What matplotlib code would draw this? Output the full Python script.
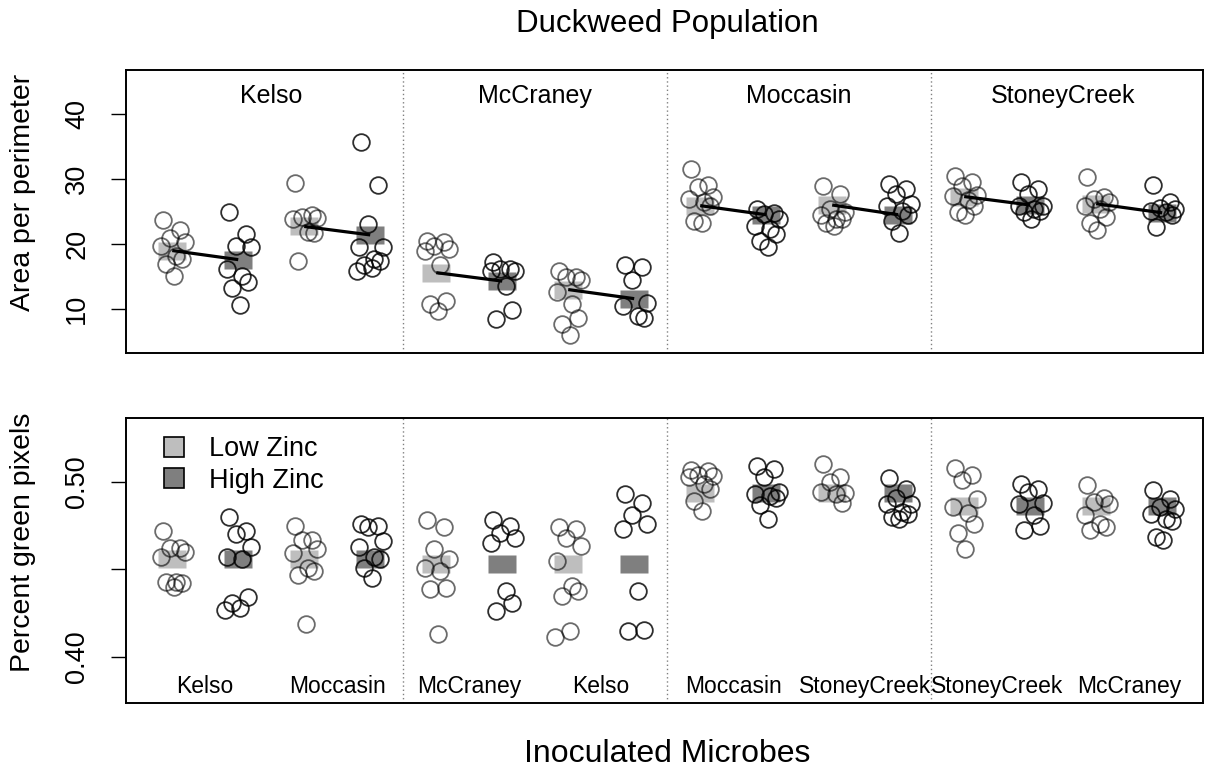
import matplotlib
matplotlib.use('Agg')
import matplotlib.pyplot as plt
from matplotlib.lines import Line2D
import numpy as np

plt.rcParams['font.family'] = ['Liberation Sans', 'DejaVu Sans']

# Datos: 4 poblaciones x 2 microbios x 2 niveles de zinc
poblaciones = ['Kelso', 'McCraney', 'Moccasin', 'StoneyCreek']
microbios = ['Kelso', 'Moccasin', 'McCraney', 'Kelso',
             'Moccasin', 'StoneyCreek', 'StoneyCreek', 'McCraney']
zinc = ['low', 'high'] * 8

# Area por perimetro (panel superior), un grupo por columna
area = [
    [23.7, 22.2, 21.0, 20.3, 19.7, 18.2, 17.7, 16.9, 15.1],
    [24.9, 21.5, 19.7, 19.5, 16.2, 15.1, 14.1, 13.3, 10.6],
    [29.4, 24.4, 24.2, 24.0, 23.8, 21.8, 21.7, 17.4],
    [35.7, 29.0, 23.1, 19.5, 19.5, 17.7, 17.4, 16.7, 16.3, 15.9],
    [20.5, 20.3, 19.7, 19.2, 19.0, 16.7, 11.3, 10.8, 9.7],
    [17.2, 16.2, 16.2, 15.9, 15.9, 13.5, 9.9, 8.4],
    [15.9, 14.9, 14.9, 14.4, 12.6, 10.8, 8.7, 7.7, 6.0],
    [16.7, 16.4, 14.4, 11.0, 10.4, 9.0, 8.7],
    [31.5, 29.0, 28.7, 27.2, 26.9, 26.4, 25.9, 23.6, 23.3],
    [25.4, 24.8, 24.6, 23.9, 22.8, 22.3, 21.5, 20.5, 19.5],
    [28.9, 27.7, 25.4, 24.9, 24.4, 23.8, 23.8, 23.3, 22.8],
    [29.2, 28.5, 27.7, 26.2, 25.9, 25.1, 24.4, 23.6, 21.7],
    [30.5, 29.5, 28.9, 27.5, 27.4, 26.7, 25.9, 24.9, 24.4],
    [29.5, 28.5, 27.7, 25.9, 25.9, 25.4, 25.1, 24.9, 23.8],
    [30.3, 27.2, 26.9, 26.4, 25.9, 25.4, 24.1, 23.3, 22.1],
    [29.0, 26.4, 25.6, 25.4, 25.1, 24.9, 24.4, 22.6],
]
area_medias = [19.0, 17.6, 22.7, 21.4, 15.6, 14.3, 13.0, 11.6,
               25.9, 24.5, 26.0, 24.5, 27.3, 26.0, 26.2, 24.8]

# Porcentaje de pixeles verdes (panel inferior)
verde = [
    [0.472, 0.462, 0.462, 0.460, 0.457, 0.443, 0.442, 0.443, 0.440],
    [0.480, 0.472, 0.470, 0.4625, 0.457, 0.456, 0.434, 0.431, 0.428, 0.427],
    [0.475, 0.467, 0.467, 0.4615, 0.4595, 0.451, 0.449, 0.447, 0.419],
    [0.476, 0.4745, 0.474, 0.466, 0.463, 0.457, 0.456, 0.451, 0.445],
    [0.478, 0.474, 0.4615, 0.456, 0.451, 0.449, 0.4395, 0.4385, 0.413],
    [0.478, 0.475, 0.471, 0.468, 0.465, 0.4375, 0.431, 0.426],
    [0.474, 0.473, 0.468, 0.4635, 0.455, 0.4405, 0.4375, 0.4345, 0.4145, 0.4115],
    [0.493, 0.488, 0.481, 0.476, 0.473, 0.4375, 0.4155, 0.4145],
    [0.507, 0.5065, 0.504, 0.5035, 0.503, 0.499, 0.496, 0.489, 0.4835],
    [0.509, 0.5075, 0.503, 0.4945, 0.493, 0.492, 0.491, 0.4865, 0.479],
    [0.510, 0.503, 0.500, 0.4935, 0.494, 0.493, 0.488],
    [0.502, 0.496, 0.491, 0.4875, 0.4875, 0.4825, 0.4815, 0.480, 0.479],
    [0.508, 0.504, 0.501, 0.490, 0.4855, 0.482, 0.476, 0.4705, 0.4615],
    [0.499, 0.496, 0.494, 0.488, 0.4875, 0.481, 0.4745, 0.4725],
    [0.498, 0.491, 0.4885, 0.4875, 0.481, 0.476, 0.474, 0.4725],
    [0.4955, 0.490, 0.4855, 0.4845, 0.4815, 0.479, 0.4775, 0.4685, 0.4665],
]
verde_medias = [0.456, 0.456, 0.456, 0.456, 0.4533, 0.4533, 0.4533, 0.4533,
                0.4935, 0.4935, 0.4935, 0.4935, 0.486, 0.486, 0.486, 0.486]

# Estilo
color_media = {'low': '#bebebe', 'high': '#7f7f7f'}
color_punto = {'low': (0, 0, 0, 0.58), 'high': (0, 0, 0, 0.82)}
jitter = [-0.14, 0.12, -0.04, 0.19, -0.17, 0.06, 0.15, -0.09, 0.02, -0.2]
rect = [(-1.5, -1), (1.5, -1), (1.5, 1), (-1.5, 1), (-1.5, -1)]
posiciones = np.arange(1, 17)

fig = plt.figure(figsize=(12.05, 7.67), dpi=100, facecolor='white')
ax1 = fig.add_axes([0.1046, 0.5398, 0.8938, 0.3689])
ax2 = fig.add_axes([0.1046, 0.0834, 0.8938, 0.3716])


def dibujar_panel(ax, datos, medias):
    for i, (vals, m) in enumerate(zip(datos, medias)):
        z = zinc[i]
        ax.plot([posiciones[i]], [m], linestyle='none', marker=rect, ms=19.5,
                mfc=color_media[z], mec='none', zorder=1)
        xs = posiciones[i] + np.array(jitter[:len(vals)])
        ax.plot(xs, vals, linestyle='none', marker='o', ms=12, mfc='none',
                mec=color_punto[z], mew=1.3, zorder=2)
    for xv in [4.5, 8.5, 12.5]:
        ax.axvline(xv, color='#808080', linestyle=(0, (1, 2)), linewidth=1, zorder=0)
    ax.set_xlim(0.30, 16.62)
    ax.set_xticks([])
    for s in ax.spines.values():
        s.set_linewidth(1.4)
    ax.tick_params(axis='y', length=10.8, width=1, labelsize=19.5, pad=15)


dibujar_panel(ax1, area, area_medias)
dibujar_panel(ax2, verde, verde_medias)

# Lineas entre medias (zinc bajo -> alto) en el panel superior
for i in range(0, 16, 2):
    ax1.plot(posiciones[i:i + 2], area_medias[i:i + 2], color='black', linewidth=2.3,
             solid_capstyle='butt', zorder=4)

ax1.set_ylim(3.25, 46.75)
ax1.set_yticks([10, 20, 30, 40])
ax1.set_yticklabels(['10', '20', '30', '40'], rotation=90, va='center')

ax2.set_ylim(0.3736, 0.5365)
ax2.set_yticks([0.40, 0.45, 0.50])
ax2.set_yticklabels(['0.40', '', '0.50'], rotation=90, va='center')

# Etiquetas de poblacion y microbios
for k, nombre in enumerate(poblaciones):
    ax1.text(2.5 + 4 * k, 0.883, nombre, transform=ax1.get_xaxis_transform(),
             ha='center', va='baseline', fontsize=18)
for k, nombre in enumerate(microbios):
    ax2.text(1.5 + 2 * k, 0.035, nombre, transform=ax2.get_xaxis_transform(),
             ha='center', va='baseline', fontsize=16.5)

# Leyenda
handles = [Line2D([], [], linestyle='none', marker='s', ms=14, mfc=color_media[z],
                  mec='black', mew=1.2) for z in ['low', 'high']]
ax2.legend(handles, ['Low Zinc', 'High Zinc'], loc='upper left', bbox_to_anchor=(0.012, 1.012),
           frameon=False, fontsize=19.5, handlelength=1.0, handletextpad=0.8,
           labelspacing=0.2, borderpad=0.3)

fig.text(0.5535, 0.958, 'Duckweed Population', ha='center', va='baseline', fontsize=22.5)
fig.text(0.5535, 0.0065, 'Inoculated Microbes', ha='center', va='baseline', fontsize=23)
fig.text(0.019, 0.7497, 'Area per perimeter', rotation=90, ha='center', va='center', fontsize=20.5)
fig.text(0.019, 0.2933, 'Percent green pixels', rotation=90, ha='center', va='center', fontsize=20.5)

plt.savefig('out.png', dpi=100, facecolor='white')
